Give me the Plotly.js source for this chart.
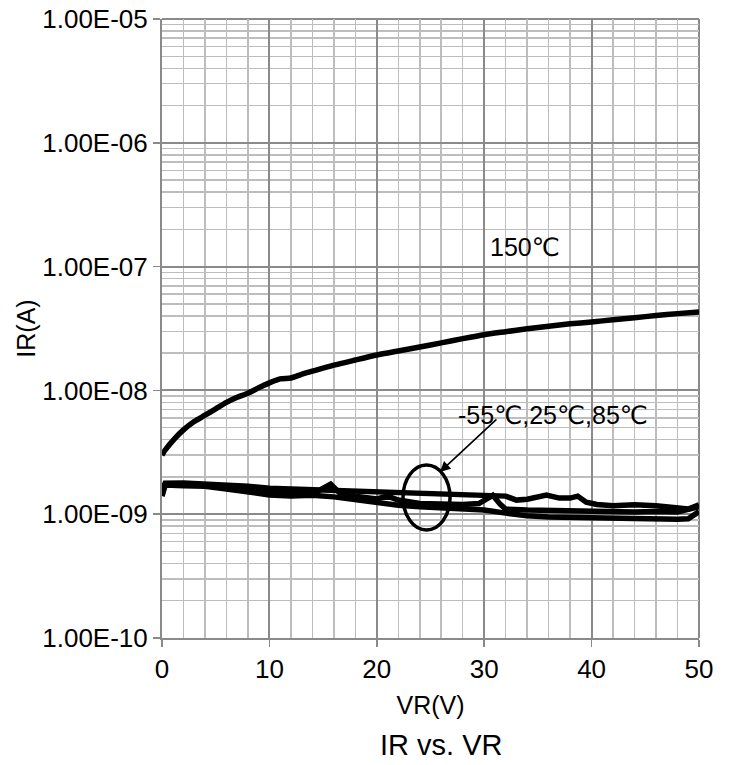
<!DOCTYPE html>
<html>
<head>
<meta charset="utf-8">
<script src="https://cdn.plot.ly/plotly-3.0.1.min.js"></script>
<style>html,body{margin:0;padding:0;background:#fff;}#chart{width:732px;height:765px;}</style>
</head>
<body>
<div id="chart"></div>
<script>
// ---- data ----
const x150 = [0, 0.3, 1.2, 2, 3, 4, 5, 6, 7, 8, 9, 10, 11, 12, 13, 14, 16, 18, 20, 22, 24, 26, 28, 30, 32, 34, 36, 38, 40, 42, 44, 46, 48, 50];
const y150 = [3.0e-9, 3.3e-9, 4.1e-9, 4.8e-9, 5.6e-9, 6.3e-9, 7.1e-9, 8.0e-9, 8.8e-9, 9.5e-9, 1.05e-8, 1.15e-8, 1.24e-8, 1.26e-8, 1.35e-8, 1.43e-8, 1.60e-8, 1.76e-8, 1.93e-8, 2.08e-8, 2.24e-8, 2.42e-8, 2.62e-8, 2.82e-8, 2.98e-8, 3.15e-8, 3.30e-8, 3.45e-8, 3.57e-8, 3.72e-8, 3.87e-8, 4.02e-8, 4.17e-8, 4.30e-8];

const xA = [0, 0.3, 2, 4, 6, 8, 10, 12, 14, 16, 18, 20, 22, 24, 26, 28, 30, 32, 33, 34, 35.8, 37, 38, 38.7, 39.5, 40.5, 42, 44, 46, 48, 49, 50];
const yA = [1.50e-9, 1.78e-9, 1.79e-9, 1.76e-9, 1.70e-9, 1.68e-9, 1.62e-9, 1.60e-9, 1.57e-9, 1.55e-9, 1.52e-9, 1.50e-9, 1.50e-9, 1.50e-9, 1.47e-9, 1.45e-9, 1.43e-9, 1.40e-9, 1.30e-9, 1.32e-9, 1.43e-9, 1.35e-9, 1.35e-9, 1.40e-9, 1.25e-9, 1.20e-9, 1.17e-9, 1.19e-9, 1.17e-9, 1.12e-9, 1.10e-9, 1.19e-9];

const xB = [0, 0.3, 2, 4, 6, 8, 10, 12, 14, 15.7, 16.5, 18, 20, 21, 22, 24, 26, 28, 29.5, 30.8, 31.5, 32, 34, 36, 38, 40, 42, 44, 46, 48, 50];
const yB = [1.45e-9, 1.75e-9, 1.74e-9, 1.72e-9, 1.62e-9, 1.57e-9, 1.50e-9, 1.50e-9, 1.45e-9, 1.75e-9, 1.50e-9, 1.40e-9, 1.33e-9, 1.40e-9, 1.30e-9, 1.22e-9, 1.20e-9, 1.20e-9, 1.22e-9, 1.42e-9, 1.20e-9, 1.10e-9, 1.08e-9, 1.07e-9, 1.06e-9, 1.05e-9, 1.05e-9, 1.04e-9, 1.05e-9, 1.04e-9, 1.15e-9];

const xC = [0, 0.3, 2, 4, 6, 8, 10, 12, 14, 16, 18, 19.7, 20.5, 22, 24, 26, 28, 30, 32, 34, 36, 38, 40, 42, 44, 46, 48, 49, 50];
const yC = [1.40e-9, 1.72e-9, 1.70e-9, 1.68e-9, 1.60e-9, 1.50e-9, 1.43e-9, 1.40e-9, 1.42e-9, 1.38e-9, 1.30e-9, 1.25e-9, 1.22e-9, 1.18e-9, 1.15e-9, 1.12e-9, 1.10e-9, 1.08e-9, 1.02e-9, 0.97e-9, 0.95e-9, 0.94e-9, 0.93e-9, 0.93e-9, 0.93e-9, 0.92e-9, 0.91e-9, 0.92e-9, 1.05e-9];

const yTickVals = [1e-10, 1e-9, 1e-8, 1e-7, 1e-6, 1e-5];
const yTickText = ["1.00E-10", "1.00E-09", "1.00E-08", "1.00E-07", "1.00E-06", "1.00E-05"];
const xTickVals = [0, 10, 20, 30, 40, 50];

const label150 = "150℃";
const labelLow = "-55℃,25℃,85℃";

// ---- minor log gridlines (2..9 per decade) ----
const minorY = [];
for (let e = -10; e < -5; e++) {
  for (let m = 2; m <= 9; m++) minorY.push(m * Math.pow(10, e));
}

const lineStyle = {color: '#000000', width: 5.5};
const traces = [
  {x: x150, y: y150, mode: 'lines', line: Object.assign({shape: 'spline', smoothing: 0.6}, lineStyle), name: '150℃', hoverinfo: 'skip'},
  {x: xA, y: yA, mode: 'lines', line: lineStyle, name: '-55℃', hoverinfo: 'skip'},
  {x: xB, y: yB, mode: 'lines', line: lineStyle, name: '25℃', hoverinfo: 'skip'},
  {x: xC, y: yC, mode: 'lines', line: lineStyle, name: '85℃', hoverinfo: 'skip'}
];

const FONT = '"Liberation Sans", Arial, "DejaVu Sans", sans-serif';
const majorGrid = '#8a8a8a';
const minorGrid = '#bdbdbd';

const layout = {
  width: 732,
  height: 765,
  margin: {l: 162, r: 33, t: 19, b: 127},
  paper_bgcolor: '#ffffff',
  plot_bgcolor: '#ffffff',
  showlegend: false,
  font: {family: FONT, size: 26, color: '#000000'},
  title: {
    text: 'IR vs. VR',
    font: {family: FONT, size: 29, color: '#000000'},
    xref: 'paper', x: 0.52, xanchor: 'center',
    yref: 'container', y: 0.026, yanchor: 'middle'
  },
  xaxis: {
    range: [0, 50],
    tickvals: xTickVals,
    ticks: 'outside', ticklen: 7, tickwidth: 1.5, tickcolor: majorGrid,
    showgrid: true, gridcolor: majorGrid, gridwidth: 2,
    minor: {dtick: 2, showgrid: true, gridcolor: minorGrid, gridwidth: 1.5, ticks: ''},
    showline: true, linecolor: majorGrid, linewidth: 2,
    zeroline: false,
    tickfont: {family: FONT, size: 26, color: '#000000'},
    title: {text: 'VR(V)', font: {family: FONT, size: 25, color: '#000000'}, standoff: 13},
    fixedrange: true
  },
  yaxis: {
    type: 'log',
    range: [-10, -5],
    tickvals: yTickVals,
    ticktext: yTickText,
    ticks: 'outside', ticklen: 7, tickwidth: 1.5, tickcolor: majorGrid,
    showgrid: true, gridcolor: majorGrid, gridwidth: 2,
    minor: {tickvals: minorY, showgrid: true, gridcolor: minorGrid, gridwidth: 1.5, ticks: ''},
    showline: true, linecolor: majorGrid, linewidth: 2,
    zeroline: false,
    tickfont: {family: FONT, size: 26, color: '#000000'},
    title: {text: 'IR(A)', font: {family: FONT, size: 25, color: '#000000'}, standoff: 0},
    fixedrange: true
  },
  shapes: [
    {type: 'line', xref: 'paper', yref: 'paper', x0: 1, x1: 1, y0: 0, y1: 1, line: {color: majorGrid, width: 2}, layer: 'below'},
    {type: 'line', xref: 'paper', yref: 'paper', x0: 0, x1: 1, y0: 1, y1: 1, line: {color: majorGrid, width: 2}, layer: 'below'},
    {type: 'circle', xref: 'x', yref: 'paper', x0: 22.44, x1: 26.82, y0: 0.1745, y1: 0.2795, line: {color: '#000000', width: 3.5}}
  ],
  annotations: [
    {text: label150, xref: 'x', yref: 'y', x: 30.35, y: -6.842, xanchor: 'left', yanchor: 'middle', showarrow: false, font: {family: FONT, size: 25, color: '#000000'}},
    {text: labelLow, xref: 'x', yref: 'y', x: 27.4, y: -8.199, xanchor: 'left', yanchor: 'middle', showarrow: false, font: {family: FONT, size: 25, color: '#000000'}},
    {text: '', xref: 'x', yref: 'y', x: 25.88, y: -8.659, ax: 58, ay: -54, showarrow: true, arrowhead: 2, arrowsize: 1.3, arrowwidth: 1.6, arrowcolor: '#000000'}
  ]
};

Plotly.newPlot('chart', traces, layout, {displayModeBar: false, staticPlot: true});
</script>
</body>
</html>
